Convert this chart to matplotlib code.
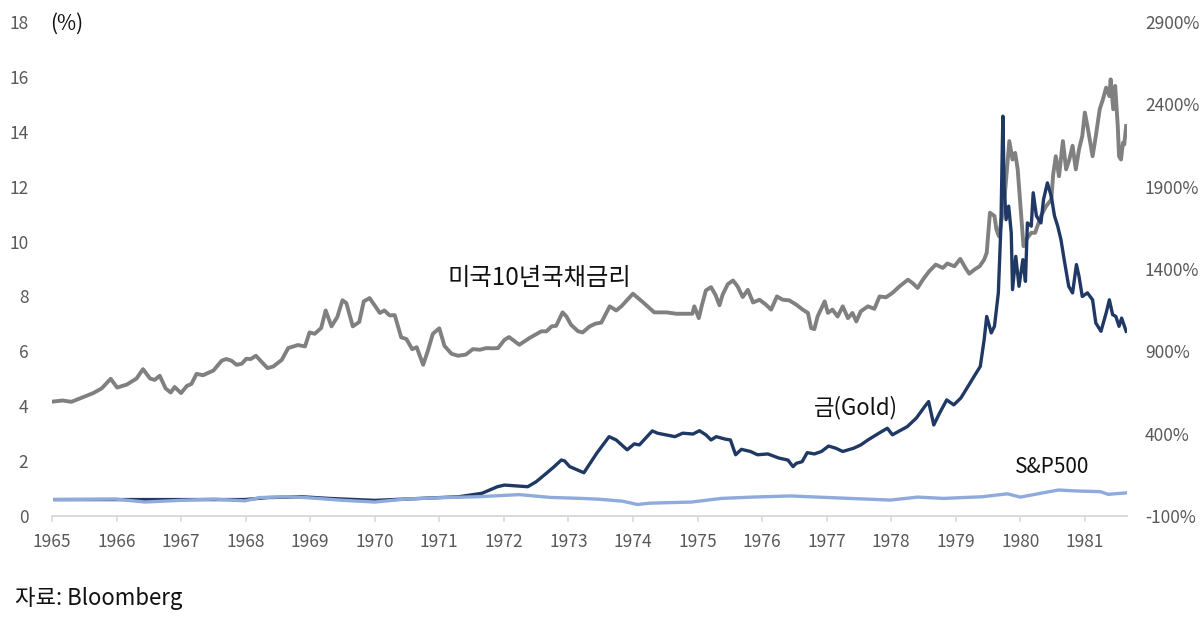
import matplotlib
matplotlib.use("Agg")
import matplotlib.pyplot as plt

plt.rcParams['font.family'] = ['Noto Sans CJK KR', 'DejaVu Sans']

# US 10y treasury yield (%), left axis
ust_year = [1965.01, 1965.17, 1965.30, 1965.48, 1965.64, 1965.77, 1965.91, 1966.01, 1966.16, 1966.31,
            1966.41, 1966.52, 1966.59, 1966.67, 1966.76, 1966.84, 1966.90, 1967.00, 1967.09, 1967.16,
            1967.24, 1967.34, 1967.50, 1967.63, 1967.70, 1967.78, 1967.86, 1967.94, 1968.01, 1968.08,
            1968.16, 1968.25, 1968.34, 1968.43, 1968.56, 1968.66, 1968.81, 1968.92, 1968.99, 1969.07,
            1969.17, 1969.24, 1969.33, 1969.42, 1969.50, 1969.56, 1969.66, 1969.76, 1969.83, 1969.92,
            1970.08, 1970.15, 1970.23, 1970.31, 1970.41, 1970.49, 1970.58, 1970.65, 1970.75, 1970.82,
            1970.90, 1971.00, 1971.08, 1971.19, 1971.29, 1971.41, 1971.52, 1971.63, 1971.73, 1971.83,
            1971.91, 1972.01, 1972.08, 1972.24, 1972.40, 1972.58, 1972.66, 1972.74, 1972.81, 1972.91,
            1972.97, 1973.04, 1973.15, 1973.22, 1973.33, 1973.42, 1973.51, 1973.64, 1973.74, 1973.82,
            1974.00, 1974.15, 1974.33, 1974.52, 1974.67, 1974.83, 1974.92, 1974.95, 1975.02, 1975.07,
            1975.13, 1975.21, 1975.28, 1975.34, 1975.39, 1975.47, 1975.55, 1975.62, 1975.70, 1975.78,
            1975.86, 1975.96, 1976.06, 1976.14, 1976.23, 1976.32, 1976.42, 1976.53, 1976.63, 1976.71,
            1976.76, 1976.81, 1976.86, 1976.97, 1977.02, 1977.09, 1977.17, 1977.25, 1977.33, 1977.40,
            1977.46, 1977.53, 1977.64, 1977.74, 1977.82, 1977.92, 1978.02, 1978.13, 1978.26, 1978.33,
            1978.41, 1978.49, 1978.59, 1978.69, 1978.80, 1978.87, 1978.98, 1979.07, 1979.15, 1979.21,
            1979.29, 1979.37, 1979.44, 1979.48, 1979.53, 1979.60, 1979.63, 1979.67, 1979.75, 1979.83,
            1979.88, 1979.92, 1979.96, 1980.01, 1980.05, 1980.09, 1980.17, 1980.23, 1980.32, 1980.40,
            1980.48, 1980.51, 1980.55, 1980.60, 1980.66, 1980.71, 1980.76, 1980.81, 1980.86, 1980.91,
            1980.96, 1981.00, 1981.04, 1981.12, 1981.17, 1981.23, 1981.28, 1981.33, 1981.38, 1981.40,
            1981.44, 1981.47, 1981.51, 1981.53, 1981.56, 1981.59, 1981.61, 1981.64]
ust_yield = [4.17, 4.21, 4.16, 4.33, 4.48, 4.65, 5.00, 4.68, 4.79, 5.01,
             5.35, 5.01, 4.96, 5.11, 4.65, 4.50, 4.70, 4.48, 4.74, 4.81,
             5.18, 5.13, 5.30, 5.66, 5.72, 5.66, 5.51, 5.55, 5.73, 5.72,
             5.84, 5.61, 5.39, 5.45, 5.69, 6.12, 6.23, 6.18, 6.69, 6.64,
             6.85, 7.49, 6.91, 7.25, 7.86, 7.76, 6.91, 7.07, 7.82, 7.94,
             7.40, 7.49, 7.31, 7.32, 6.51, 6.45, 6.08, 6.15, 5.51, 6.00,
             6.64, 6.84, 6.20, 5.91, 5.84, 5.88, 6.08, 6.06, 6.12, 6.11,
             6.12, 6.42, 6.52, 6.24, 6.49, 6.73, 6.73, 6.91, 6.93, 7.42,
             7.27, 6.97, 6.73, 6.69, 6.91, 7.01, 7.05, 7.64, 7.49, 7.64,
             8.10, 7.80, 7.42, 7.42, 7.37, 7.37, 7.37, 7.64, 7.21, 7.70,
             8.22, 8.34, 8.05, 7.68, 8.07, 8.45, 8.58, 8.37, 7.98, 8.24,
             7.78, 7.88, 7.70, 7.52, 8.00, 7.88, 7.86, 7.70, 7.52, 7.40,
             6.85, 6.81, 7.27, 7.82, 7.40, 7.52, 7.27, 7.64, 7.21, 7.40,
             7.09, 7.46, 7.64, 7.55, 8.00, 7.97, 8.13, 8.37, 8.61, 8.49,
             8.31, 8.61, 8.92, 9.16, 9.04, 9.20, 9.10, 9.37, 9.04, 8.83,
             8.98, 9.10, 9.34, 9.59, 11.05, 10.93, 10.44, 10.19, 11.41, 13.66,
             12.99, 13.23, 12.63, 11.05, 9.83, 10.07, 10.32, 10.32, 10.93, 11.29,
             11.53, 12.45, 13.11, 12.38, 13.66, 12.63, 12.99, 13.49, 12.63, 13.36,
             13.84, 14.70, 14.21, 13.11, 13.84, 14.82, 15.18, 15.61, 15.30, 15.91,
             14.82, 15.67, 14.21, 13.11, 12.99, 13.60, 13.54, 14.21]

# gold cumulative return (%), right axis
gold_year = [1965.05, 1967.99, 1968.34, 1968.87, 1969.29, 1970.00, 1970.71, 1971.30, 1971.66, 1971.90,
             1972.01, 1972.37, 1972.50, 1972.66, 1972.78, 1972.89, 1972.94, 1973.02, 1973.24, 1973.44,
             1973.63, 1973.74, 1973.91, 1974.02, 1974.10, 1974.30, 1974.38, 1974.65, 1974.77, 1974.93,
             1975.03, 1975.13, 1975.21, 1975.29, 1975.43, 1975.51, 1975.59, 1975.68, 1975.82, 1975.93,
             1976.09, 1976.26, 1976.40, 1976.48, 1976.53, 1976.62, 1976.70, 1976.81, 1976.92, 1977.03,
             1977.14, 1977.25, 1977.42, 1977.53, 1977.64, 1977.81, 1977.94, 1978.02, 1978.11, 1978.25,
             1978.39, 1978.52, 1978.58, 1978.66, 1978.75, 1978.86, 1978.97, 1979.08, 1979.19, 1979.30,
             1979.38, 1979.44, 1979.48, 1979.55, 1979.60, 1979.66, 1979.70, 1979.73, 1979.75, 1979.78,
             1979.82, 1979.86, 1979.88, 1979.93, 1979.98, 1980.04, 1980.08, 1980.11, 1980.17, 1980.20,
             1980.25, 1980.32, 1980.36, 1980.42, 1980.48, 1980.53, 1980.58, 1980.63, 1980.68, 1980.75,
             1980.81, 1980.87, 1980.91, 1980.96, 1981.04, 1981.12, 1981.17, 1981.25, 1981.33, 1981.38,
             1981.43, 1981.48, 1981.53, 1981.57, 1981.64]
gold_ret = [0, 0, 12, 17, 7, -5, 7, 17, 38, 78,
            88, 78, 108, 160, 200, 240, 235, 200, 163, 282,
            382, 362, 302, 338, 332, 417, 403, 382, 403, 398,
            418, 393, 362, 382, 367, 362, 272, 305, 292, 272,
            277, 252, 240, 200, 220, 230, 285, 277, 292, 325,
            312, 292, 312, 332, 362, 403, 433, 393, 413, 443,
            495, 565, 595, 453, 525, 605, 575, 617, 687, 758,
            808, 970, 1112, 1012, 1052, 1255, 1660, 2328, 1903, 1700,
            1782, 1620, 1275, 1477, 1295, 1457, 1325, 1680, 1660, 1863,
            1722, 1680, 1822, 1923, 1842, 1722, 1660, 1578, 1457, 1295,
            1255, 1427, 1355, 1233, 1255, 1213, 1072, 1022, 1133, 1213,
            1123, 1112, 1052, 1102, 1022]

# S&P500 cumulative return (%), right axis
spx_year = [1965.05, 1965.98, 1966.44, 1966.98, 1967.51, 1967.99, 1968.22, 1968.64, 1968.93, 1969.52,
            1970.00, 1970.48, 1971.07, 1971.59, 1972.24, 1972.72, 1973.20, 1973.48, 1973.84, 1974.07,
            1974.26, 1974.91, 1975.37, 1975.85, 1976.44, 1977.04, 1977.99, 1978.41, 1978.81, 1979.41,
            1979.80, 1980.00, 1980.59, 1980.88, 1981.24, 1981.36, 1981.63]
spx_ret = [0, 3, -15, -5, 3, -8, 12, 17, 12, -5,
           -15, 3, 12, 17, 30, 13, 7, 2, -10, -30,
           -22, -15, 7, 15, 22, 12, -3, 15, 7, 17,
           35, 15, 58, 52, 48, 32, 40]

years = list(range(1965, 1982))

fig = plt.figure(figsize=(12, 6.23), dpi=100)
ax = fig.add_axes([0.0433, 0.1717, 0.8957, 0.793])
ax2 = ax.twinx()

ax.plot(ust_year, ust_yield, color='#808080', lw=2.8, solid_joinstyle='round')
ax2.plot(gold_year, gold_ret, color='#1f3864', lw=2.4, solid_joinstyle='round')
ax2.plot(spx_year, spx_ret, color='#8faadc', lw=2.4, solid_joinstyle='round')

ax.set_xlim(1965, 1981.65)
ax.set_ylim(0, 18)
ax2.set_ylim(-100, 2900)
ax.set_xticks(years)
ax.set_yticks(range(0, 19, 2))
ax2.set_yticks(range(-100, 2901, 500))
ax2.set_yticklabels([f'{v}%' for v in range(-100, 2901, 500)])

for a in (ax, ax2):
    for s in ('top', 'left', 'right'):
        a.spines[s].set_visible(False)
    a.spines['bottom'].set_color('#d9d9d9')
    a.spines['bottom'].set_linewidth(1.2)

ax.tick_params(axis='x', length=4, width=1.2, color='#d9d9d9', pad=8,
               labelsize=12.5, labelcolor='#595959')
ax.tick_params(axis='y', length=0, pad=17, labelsize=12.5, labelcolor='#595959')
ax2.tick_params(axis='y', length=0, pad=13, labelsize=12.5, labelcolor='#595959')

ax.text(1964.97, 17.95, '(%)', fontsize=15, va='center', ha='left', color='#111111')
ax.text(1971.13, 8.69, '미국10년국채금리', fontsize=17.5, va='center', ha='left', color='#111111')
ax.text(1976.81, 3.94, '금(Gold)', fontsize=16, va='center', ha='left', color='#111111')
ax.text(1979.91, 1.79, 'S&P500', fontsize=15, va='center', ha='left', color='#111111')
fig.text(0.0125, 0.04, '자료: Bloomberg', fontsize=16, va='center', ha='left', color='#111111')

fig.savefig('out.png', dpi=100)
